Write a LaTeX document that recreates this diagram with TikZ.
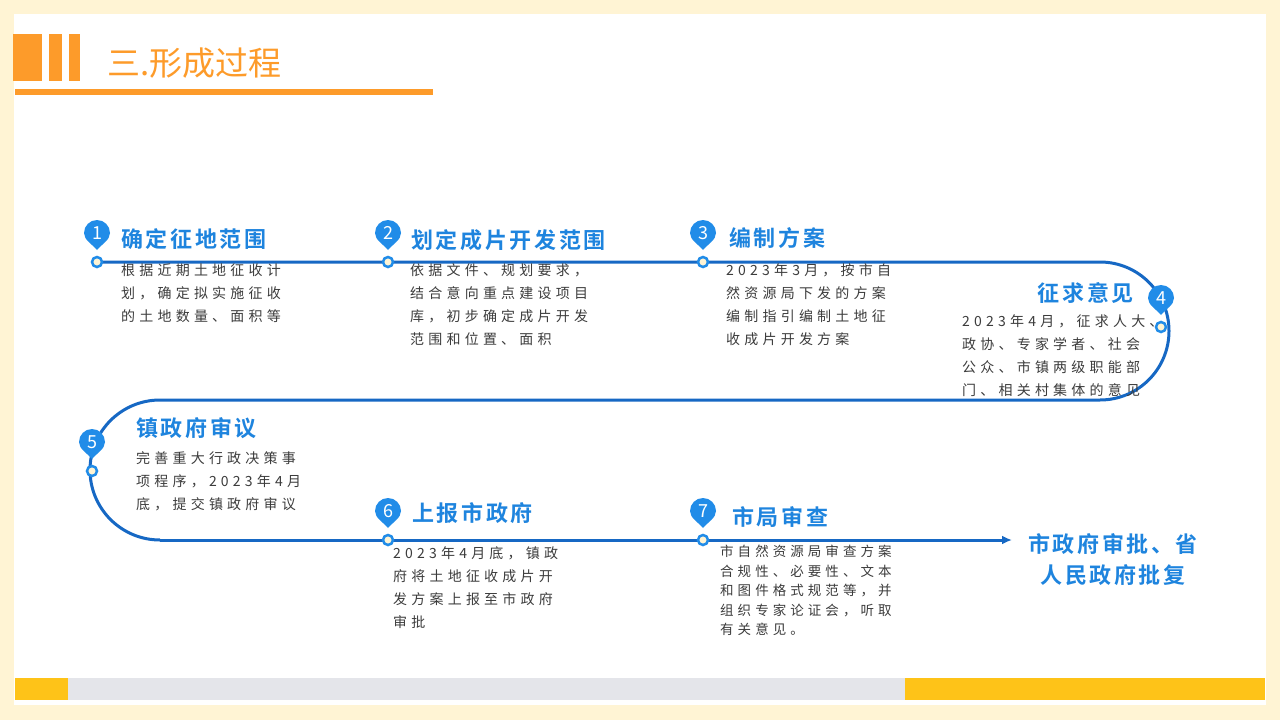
\documentclass[tikz,border=0pt]{standalone}
\usepackage{fontspec}
\setmainfont{Noto Sans CJK SC}
\newfontfamily\bodyfont[LetterSpace=30]{Noto Sans CJK SC}
\newfontfamily\headfont[LetterSpace=12]{Noto Sans CJK SC Bold}
\usetikzlibrary{arrows.meta}
\definecolor{bgcream}{RGB}{255,244,212}
\definecolor{orangeT}{RGB}{253,155,42}
\definecolor{lineblue}{RGB}{22,104,196}
\definecolor{pinblue}{RGB}{33,140,232}
\definecolor{headblue}{RGB}{30,132,222}
\definecolor{bodygrey}{RGB}{60,60,60}
\definecolor{barY}{RGB}{254,195,24}
\definecolor{barG}{RGB}{228,229,234}
\tikzset{
  steptitle/.style={anchor=west,inner sep=0pt,text=headblue,font=\headfont\fontsize{22}{26}\selectfont},
  stepbody/.style={anchor=north west,inner sep=0pt,align=left,text=bodygrey,font=\bodyfont\fontsize{14}{23}\selectfont},
  dot/.style={circle,draw=pinblue,line width=2.5pt,fill=bgcream,minimum size=10pt,inner sep=0pt},
}
% pin marker above a point
\newcommand{\pinmark}[3]{%
  \fill[pinblue] (#1,#2-12) .. controls (#1-5,#2-18) and (#1-13,#2-22) .. (#1-13,#2-29)
    arc(180:360:13) .. controls (#1+13,#2-22) and (#1+5,#2-18) .. (#1,#2-12);
  \node[text=white,font=\fontsize{18}{18}\selectfont,inner sep=0pt] at (#1,#2-29) {#3};}
\begin{document}
\begin{tikzpicture}[x=1pt,y=-1pt]
\useasboundingbox (0,0) rectangle (1280,720);
\fill[bgcream] (0,0) rectangle (1280,720);
\fill[white] (14,14) rectangle (1266,705);
% header
\fill[orangeT] (13,34) rectangle (42,81);
\fill[orangeT] (49,34) rectangle (62,81);
\fill[orangeT] (69,34) rectangle (80,81);
\fill[orangeT] (15,89) rectangle (433,95);
\node[anchor=west,inner sep=0pt,text=orangeT,font=\fontsize{33}{36}\selectfont] (head) at (107,63) {三.形成过程};
% bottom bars
\fill[barY] (15,678) rectangle (68,700);
\fill[barG] (68,678) rectangle (905,700);
\fill[barY] (905,678) rectangle (1265,700);
% timeline
\coordinate (s) at (97,262);
\coordinate (r1) at (1100,262);
\coordinate (r2) at (1100,400);
\coordinate (l1) at (160,400);
\coordinate (l2) at (160,540);
\coordinate (e) at (1012,540);
\draw[lineblue,line width=3pt] (s) -- (r1) arc(-90:90:69) -- (l1) arc(270:90:70) -- (l2);
\draw[lineblue,line width=3pt,-{Latex[length=10pt,width=9pt]}] (l2) -- (e);
% markers
\node[dot] (d1) at (97,262) {};
\node[dot] (d2) at (388,262) {};
\node[dot] (d3) at (703,262) {};
\node[dot] (d4) at (1161,327) {};
\node[dot] (d5) at (92,471) {};
\node[dot] (d6) at (388,540) {};
\node[dot] (d7) at (703,540) {};
\pinmark{97}{262}{1}
\pinmark{388}{262}{2}
\pinmark{703}{262}{3}
\pinmark{1161}{327}{4}
\pinmark{92}{471}{5}
\pinmark{388}{540}{6}
\pinmark{703}{540}{7}
% texts
\node[steptitle] (t1) at (121,239) {确定征地范围};
\node[stepbody] (b1) at (121,264) {根据近期土地征收计\\划，确定拟实施征收\\的土地数量、面积等};
\node[steptitle] (t2) at (411,240) {划定成片开发范围};
\node[stepbody,font=\bodyfont\fontsize{14}{23}\selectfont] (b2) at (410,263) {依据文件、规划要求，\\结合意向重点建设项目\\库，初步确定成片开发\\范围和位置、面积};
\node[steptitle] (t3) at (729,238) {编制方案};
\node[stepbody] (b3) at (726,263) {2023年3月，按市自\\然资源局下发的方案\\编制指引编制土地征\\收成片开发方案};
\node[steptitle,anchor=east] (t4) at (1134,293) {征求意见};
\node[stepbody] (b4) at (962,314) {2023年4月，征求人大、\\政协、专家学者、社会\\公众、市镇两级职能部\\门、相关村集体的意见};
\node[steptitle] (t5) at (136,428) {镇政府审议};
\node[stepbody] (b5) at (136,451) {完善重大行政决策事\\项程序，2023年4月\\底，提交镇政府审议};
\node[steptitle] (t6) at (412,513) {上报市政府};
\node[stepbody] (b6) at (393,546) {2023年4月底，镇政\\府将土地征收成片开\\发方案上报至市政府\\审批};
\node[steptitle] (t7) at (732,517) {市局审查};
\node[stepbody,font=\bodyfont\fontsize{13.5}{19.5}\selectfont] (b7) at (720,545) {市自然资源局审查方案\\合规性、必要性、文本\\和图件格式规范等，并\\组织专家论证会，听取\\有关意见。};
\node[steptitle,anchor=center,align=center,font=\headfont\fontsize{22}{31}\selectfont] (t8) at (1113,560) {市政府审批、省\\人民政府批复};
\end{tikzpicture}
\end{document}
